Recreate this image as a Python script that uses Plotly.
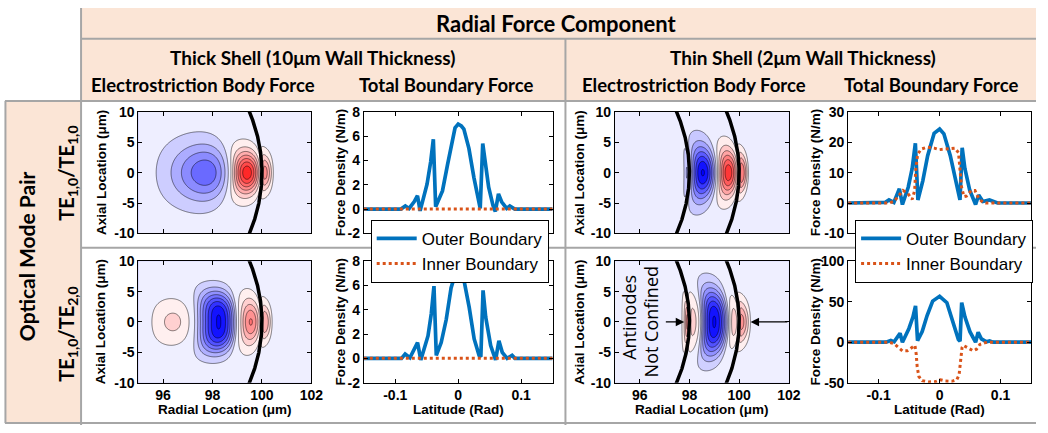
import numpy as np
import plotly.graph_objects as go

FIG_W, FIG_H = 1048, 433

# ---------------- boundary force density along the latitude (rad -> N/m) ----------------
lat_thick_10 = [-0.15, -0.10, -0.091, -0.084, -0.078, -0.070, -0.0647, -0.0605, -0.0495, -0.0437,
                -0.0395, -0.0358, -0.025, -0.017, -0.0095, -0.005, 0.0, 0.005, 0.009, 0.017,
                0.025, 0.030, 0.035, 0.039, 0.0432, 0.0484, 0.0553, 0.059, 0.064, 0.069,
                0.077, 0.082, 0.090, 0.10, 0.15]
outer_thick_10 = [0, 0, 0, 0.25, 0.05, 0.6, 1.1, -0.15, 2.05, 3.9,
                  5.75, 0.2, 1.5, 3.65, 5.8, 6.7, 7.0, 6.85, 6.6, 5.0,
                  2.6, 1.25, 0.05, 5.4, 3.5, 1.8, 0.3, -0.2, 1.25, 0.6,
                  0.05, 0.25, 0, 0, 0]

lat_thick_20 = [-0.15, -0.10, -0.09, -0.0843, -0.0767, -0.0646, -0.0594, -0.048, -0.0427, -0.0385,
                -0.0348, -0.027, -0.019, -0.0113, -0.005, 0.0, 0.005, 0.0097, 0.0175, 0.0254,
                0.0332, 0.036, 0.0395, 0.0437, 0.0516, 0.0594, 0.0647, 0.070, 0.0777, 0.0856,
                0.090, 0.10, 0.15]
outer_thick_20 = [0, 0, 0, 0.35, 0.05, 1.3, -0.13, 1.85, 3.7, 5.95,
                  0.25, 1.3, 3.2, 5.8, 6.9, 7.2, 7.0, 6.3, 4.2, 1.6,
                  0.25, 0.13, 5.6, 3.4, 1.05, -0.13, 1.45, 0.5, 0.0, 0.25,
                  0, 0, 0]

lat_thick_inner = [-0.15, -0.10, -0.05, 0.0, 0.05, 0.10, 0.15]
inner_thick_10 = [0, 0, 0, 0, 0, 0, 0]
inner_thick_20 = [0, 0, 0, 0, 0, 0, 0]

lat_thin_10_outer = [-0.15, -0.095, -0.089, -0.083, -0.075, -0.066, -0.061, -0.0515, -0.045, -0.0398,
                     -0.0356, -0.0276, -0.0196, -0.009, 0.0, 0.007, 0.0175, 0.0255, 0.0334, 0.037,
                     0.0414, 0.0494, 0.059, 0.064, 0.071, 0.0817, 0.0897, 0.095, 0.15]
outer_thin_10 = [0, 0, 0.2, 1.0, 0.2, 4.7, -0.5, 5.2, 11.4, 19.7,
                 1.0, 7.3, 15.6, 23.0, 24.4, 22.8, 15.6, 8.3, 1.0, 18.2,
                 11.4, 4.2, -0.5, 2.6, 0.5, 1.0, 0.2, 0, 0]

lat_thin_10_inner = [-0.15, -0.083, -0.075, -0.067, -0.060, -0.052, -0.045, -0.041, -0.039, -0.036,
                     -0.030, -0.020, -0.009, 0.0, 0.012, 0.025, 0.031, 0.033, 0.036, 0.040,
                     0.044, 0.052, 0.058, 0.064, 0.071, 0.076, 0.15]
inner_thin_10 = [0, 0, 0.5, 2.6, 4.1, 3.1, 1.2, 4.1, 11.4, 16.1,
                 17.8, 18.4, 18.1, 17.6, 17.9, 18.1, 16.6, 12.4, 5.2, 2.1,
                 2.3, 4.1, 4.1, 1.6, 0.2, 0, 0]

lat_thin_20_outer = [-0.15, -0.088, -0.080, -0.0746, -0.0649, -0.061, -0.0503, -0.0438, -0.0395, -0.0362,
                     -0.0286, -0.0205, -0.0114, 0.0, 0.0119, 0.0227, 0.0308, 0.0335, 0.0362, 0.0416,
                     0.0497, 0.059, 0.0632, 0.0686, 0.0768, 0.082, 0.0876, 0.15]
outer_thin_20 = [0, 0, 2, 0.4, 11.1, 0, 17, 31, 44.8, 2,
                 13, 33, 50.8, 56.7, 48.8, 23, 3.2, 1.2, 48.8, 31,
                 13, 0, 12.3, 4, 0.4, 1.6, 0, 0]

lat_thin_20_inner = [-0.15, -0.083, -0.0746, -0.0665, -0.061, -0.053, -0.046, -0.0405, -0.0384, -0.0368,
                     -0.034, -0.0286, -0.0178, -0.007, 0.001, 0.0092, 0.020, 0.0281, 0.0319, 0.0346,
                     0.0368, 0.039, 0.047, 0.0551, 0.0605, 0.066, 0.074, 0.0795, 0.15]
inner_thin_20 = [0, 0, -2, -6.7, -10.7, -10.7, -6.7, -4, -14.7, -30.6,
                 -42.5, -47.6, -49.2, -48.8, -46.4, -48, -48.4, -46.4, -40.5, -24.6,
                 -6.7, -4, -7.5, -10.7, -8.7, -2.8, -0.8, 0, 0]

# ---------------- electrostriction body force lobes ----------------
# each lobe: (radius start, radius of peak, radius end, amplitude in contour steps, axial width um, axial exponent)
thick10_lobes = [(94.7, 97.7, 98.7, -4.3, 4.6, 2),
                 (98.7, 99.4, 100.0, 7.2, 3.4, 2),
                 (100.0, 100.12, 100.5, 4.0, 3.0, 2)]
thick20_lobes = [(95.2, 96.4, 97.18, 1.8, 3.4, 2),
                 (97.18, 98.25, 99.0, -7.6, 4.9, 3),
                 (99.0, 99.55, 100.0, 4.6, 3.7, 2),
                 (100.0, 100.12, 100.45, 3.5, 3.0, 2)]
thin10_lobes = [(97.7, 97.9, 98.0, -1.6, 3.7, 2),
                (98.0, 98.54, 99.1, -6.6, 4.35, 2),
                (99.1, 99.57, 100.0, 6.2, 3.8, 2),
                (100.0, 100.1, 100.4, 4.5, 3.2, 2)]
thin20_lobes = [(97.3, 97.92, 98.0, 4.0, 3.5, 2),
                (98.0, 98.15, 98.43, 2.0, 4.2, 2),
                (98.43, 99.0, 99.6, -7.6, 5.4, 2.5),
                (99.6, 99.8, 100.0, 2.2, 3.6, 2),
                (100.0, 100.1, 100.5, 4.0, 3.4, 2)]

# colour limits (contour steps) for each map
thick10_clim, thick20_clim, thin10_clim, thin20_clim = 7.7, 8.1, 7.0, 8.1

# shell wall radii (um)
thick_shell_radii = [90.0, 100.0]
thin_shell_radii = [98.0, 100.0]

# sampling grid runs a little past the axes so the filled bands reach the frame
r_grid = np.linspace(94.8, 102.2, 371)
z_grid = np.linspace(-10.4, 10.4, 261)

N_HALF = 9  # contour levels at +-0.5, +-1.5, ...

radial_ticks = [96, 98, 100, 102]
axial_ticks = [-10, -5, 0, 5, 10]
latitude_ticks = [-0.1, 0, 0.1]
force_ticks = {2: [-2, 0, 2, 4, 6, 8], 4: [-10, 0, 10, 20, 30],
               6: [-2, 0, 2, 4, 6, 8], 8: [-50, 0, 50, 100]}


def body_force(lobes):
    R, Z = np.meshgrid(r_grid, z_grid)
    rho = np.sqrt(R ** 2 + Z ** 2)
    f = np.zeros_like(R)
    for a, pk, b, amp, zw, zp in lobes:
        u = (rho - a) / (b - a)
        m = (pk - a) / (b - a)
        q = np.log(0.5) / np.log(m)
        g = np.where((u > 0) & (u < 1), np.sin(np.pi * np.clip(u, 0, 1) ** q), 0.0)
        f += amp * g * np.exp(-np.abs(Z / zw) ** zp)
    return f


def shade(c):
    """white -> blue for negative, white -> red for positive (c in [-1, 1])"""
    c = max(-1.0, min(1.0, c))
    t = round(255 * (1 - abs(c)))
    return f"rgb({t},{t},255)" if c < 0 else f"rgb(255,{t},{t})"


def band_colorscale(clim):
    # one stop per band; a band takes the colour of its lower contour level
    nb = 2 * N_HALF
    stops = []
    for k in range(nb + 1):
        v = -N_HALF + k
        stops.append([k / nb, shade((v - 0.5) / clim)])
    return stops


def px_x(a, b):
    return [a / FIG_W, b / FIG_W]


def px_y(top, bottom):
    return [1 - bottom / FIG_H, 1 - top / FIG_H]


def bold_labels(vals):
    return [f"<b>{v:g}</b>" for v in vals]


AX_FONT = "Liberation Sans, Arial, sans-serif"
HEAD_FONT = "Lato, sans-serif"
BLUE = "#0072BD"
ORANGE = "#D95319"
PEACH = "#FBE5D6"
GRID = "#A6A6A6"

fig = go.Figure()

# subplot frames in pixels
cols = [(140, 315), (368, 559), (622, 798), (858, 1043)]
rows = [(108, 234), (263, 389)]

maps = [(thick10_lobes, thick10_clim, thick_shell_radii, 1),
        (thin10_lobes, thin10_clim, thin_shell_radii, 3),
        (thick20_lobes, thick20_clim, thick_shell_radii, 5),
        (thin20_lobes, thin20_clim, thin_shell_radii, 7)]

for lobes, clim, radii, k in maps:
    xa, ya = f"x{k}", f"y{k}"
    fig.add_trace(go.Contour(
        x=r_grid, y=z_grid, z=body_force(lobes),
        autocontour=False,
        contours=dict(start=-N_HALF + 0.5, end=N_HALF - 0.5, size=1, coloring="fill"),
        colorscale=band_colorscale(clim), showscale=False,
        line=dict(color="black", width=0.5, smoothing=1),
        hoverinfo="skip", xaxis=xa, yaxis=ya, showlegend=False))
    zz = np.linspace(-10.5, 10.5, 211)
    for R0 in radii:
        fig.add_trace(go.Scatter(
            x=np.sqrt(R0 ** 2 - zz ** 2), y=zz, mode="lines",
            line=dict(color="black", width=3.5), hoverinfo="skip",
            xaxis=xa, yaxis=ya, showlegend=False))

lines = [(lat_thick_10, outer_thick_10, lat_thick_inner, inner_thick_10, 2, "legend", True),
         (lat_thin_10_outer, outer_thin_10, lat_thin_10_inner, inner_thin_10, 4, "legend2", True),
         (lat_thick_20, outer_thick_20, lat_thick_inner, inner_thick_20, 6, "legend", False),
         (lat_thin_20_outer, outer_thin_20, lat_thin_20_inner, inner_thin_20, 8, "legend2", False)]

for lo, vo, li, vi, k, leg, show in lines:
    fig.add_trace(go.Scatter(x=lo, y=vo, mode="lines", name="Outer Boundary",
                             line=dict(color=BLUE, width=3.7), xaxis=f"x{k}", yaxis=f"y{k}",
                             legend=leg, showlegend=show))
    fig.add_trace(go.Scatter(x=li, y=vi, mode="lines", name="Inner Boundary",
                             line=dict(color=ORANGE, width=3, dash="3px,3px"), xaxis=f"x{k}", yaxis=f"y{k}",
                             legend=leg, showlegend=show))

axis_common = dict(showline=True, linecolor="black", linewidth=1, mirror="ticks",
                   ticks="inside", ticklen=4, tickwidth=1, tickcolor="black",
                   showgrid=False, zeroline=False, fixedrange=True,
                   tickfont=dict(family=AX_FONT, size=14, color="black", weight="bold"))

y_ranges = {2: [-2, 8], 4: [-10, 30], 6: [-2, 8], 8: [-50, 100]}

layout_axes = {}
for ri, (top, bot) in enumerate(rows):
    for ci, (left, right) in enumerate(cols):
        k = ri * 4 + ci + 1
        is_map = ci in (0, 2)
        xa = dict(axis_common, domain=px_x(left, right), anchor=f"y{k}",
                  showticklabels=(ri == 1))
        ya = dict(axis_common, domain=px_y(top, bot), anchor=f"x{k}")
        if is_map:
            xa.update(range=[95, 102], tickvals=radial_ticks, ticktext=bold_labels(radial_ticks))
            ya.update(range=[-10, 10], tickvals=axial_ticks, ticktext=bold_labels(axial_ticks))
        else:
            xa.update(range=[-0.15, 0.15], tickvals=latitude_ticks, ticktext=bold_labels(latitude_ticks))
            ya.update(range=y_ranges[k], tickvals=force_ticks[k], ticktext=bold_labels(force_ticks[k]))
        layout_axes[f"xaxis{k}"] = xa
        layout_axes[f"yaxis{k}"] = ya

fig.update_layout(**layout_axes)

# ---------------- table background ----------------
shapes = [
    dict(type="rect", x0=83, x1=1048, y0=0, y1=96, fillcolor=PEACH, line=dict(width=0)),
    dict(type="rect", x0=6, x1=81, y0=97, y1=431, fillcolor=PEACH, line=dict(width=0)),
]
grid_lines = [((82, 0), (82, 433)), ((82, 32), (1048, 32)), ((5, 96.5), (1048, 96.5)),
              ((572, 32), (572, 433)), ((82, 249), (1048, 249)), ((5, 431), (1048, 431)),
              ((5.5, 96.5), (5.5, 431))]
for (x0, y0), (x1, y1) in grid_lines:
    shapes.append(dict(type="line", x0=x0, y0=y0, x1=x1, y1=y1, line=dict(color=GRID, width=2)))
for s in shapes:
    s.update(xref="paper", yref="paper", layer="below",
             x0=s["x0"] / FIG_W, x1=s["x1"] / FIG_W,
             y0=1 - s["y0"] / FIG_H, y1=1 - s["y1"] / FIG_H)

annotations = []


def note(text, x, y, size, family=HEAD_FONT, weight="bold", angle=0, color="black"):
    annotations.append(dict(text=text, x=x / FIG_W, y=1 - y / FIG_H, xref="paper", yref="paper",
                            showarrow=False, xanchor="center", yanchor="middle", textangle=angle,
                            font=dict(family=family, size=size, weight=weight, color=color)))


note("Radial Force Component", 563, 16, 22)
note("Thick Shell (10\u03bcm Wall Thickness)", 316, 51, 19)
note("Thin Shell (2\u03bcm Wall Thickness)", 812, 51, 19)
note("Electrostriction Body Force", 205, 80, 18.5)
note("Total Boundary Force", 451, 80, 18.5)
note("Electrostriction Body Force", 702, 80, 18.5)
note("Total Boundary Force", 942, 80, 18.5)
note("Optical Mode Pair", 27, 258, 21, angle=-90)
note("TE<sub>1,0</sub>/TE<sub>1,0</sub>", 68, 172, 20, angle=-90)
note("TE<sub>1,0</sub>/TE<sub>2,0</sub>", 68, 339, 20, angle=-90)

# axis titles
for ri, (top, bot) in enumerate(rows):
    yc = (top + bot) / 2
    note("Axial Location (\u03bcm)", 102.5, yc, 13.5, family=AX_FONT, angle=-90)
    note("Force Density (N/m)", 344.5, yc, 13.5, family=AX_FONT, angle=-90)
    note("Axial Location (\u03bcm)", 586.5, yc, 13.5, family=AX_FONT, angle=-90)
    note("Force Density (N/m)", 825, yc, 13.5, family=AX_FONT, angle=-90)
note("Radial Location (\u03bcm)", 227.5, 417, 13.5, family=AX_FONT)
note("Latitude (Rad)", 463.5, 417, 13.5, family=AX_FONT)
note("Radial Location (\u03bcm)", 710, 417, 13.5, family=AX_FONT)
note("Latitude (Rad)", 950.5, 417, 13.5, family=AX_FONT)

# "antinodes not confined" callout on the thin-shell TE1,0/TE2,0 map
note("Antinodes", 636, 321, 18, family="Open Sans, sans-serif", weight="normal", angle=-90)
note("Not Confined", 658, 326, 18, family="Open Sans, sans-serif", weight="normal", angle=-90)
for tip, tail in [((97.79, 0), (96.99, 0)), ((100.46, 0), (102.0, 0))]:
    annotations.append(dict(x=tip[0], y=tip[1], ax=tail[0], ay=tail[1], xref="x7", yref="y7",
                            axref="x7", ayref="y7", text="", showarrow=True, arrowhead=2,
                            arrowsize=1.3, arrowwidth=1.3, arrowcolor="black"))

legend_style = dict(bgcolor="white", bordercolor="black", borderwidth=1,
                    font=dict(family=AX_FONT, size=17, color="black"),
                    xanchor="left", yanchor="top", itemwidth=40, tracegroupgap=0)

fig.update_layout(
    width=FIG_W, height=FIG_H, margin=dict(l=0, r=0, t=0, b=0),
    paper_bgcolor="white", plot_bgcolor="white",
    shapes=shapes, annotations=annotations,
    legend=dict(legend_style, x=375 / FIG_W, y=1 - 220 / FIG_H),
    legend2=dict(legend_style, x=865 / FIG_W, y=1 - 220 / FIG_H),
)

fig.write_html("out.html")
